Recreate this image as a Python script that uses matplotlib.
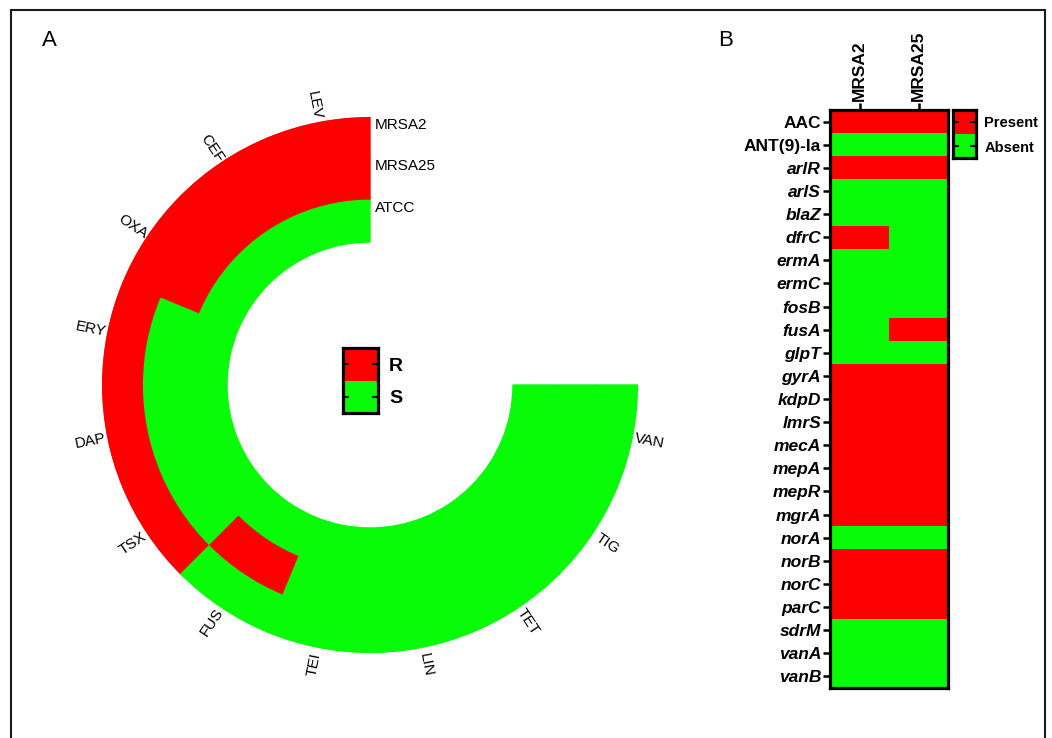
import numpy as np
import matplotlib
matplotlib.use("Agg")
import matplotlib.pyplot as plt
from matplotlib.colors import ListedColormap
from matplotlib.patches import Rectangle

plt.rcParams["font.family"] = ["Liberation Sans", "DejaVu Sans"]

RED = "#ff0000"
GREEN = "#08fc08"

# Panel A: antimicrobial susceptibility (1 = resistant, 0 = susceptible)
antibiotics = ["LEV", "CEF", "OXA", "ERY", "DAP", "TSX",
               "FUS", "TEI", "LIN", "TET", "TIG", "VAN"]
strains = ["MRSA2", "MRSA25", "ATCC"]          # outer ring -> inner ring
mrsa2_res = [1, 1, 1, 1, 1, 1, 0, 0, 0, 0, 0, 0]
mrsa25_res = [1, 1, 1, 0, 0, 0, 1, 0, 0, 0, 0, 0]
atcc_res = [0, 0, 0, 0, 0, 0, 0, 0, 0, 0, 0, 0]
res_labels = ["R", "S"]

# Panel B: resistance gene presence (1 = present, 0 = absent)
genes = ["AAC", "ANT(9)-Ia", "arlR", "arlS", "blaZ", "dfrC", "ermA", "ermC",
         "fosB", "fusA", "glpT", "gyrA", "kdpD", "lmrS", "mecA", "mepA",
         "mepR", "mgrA", "norA", "norB", "norC", "parC", "sdrM", "vanA", "vanB"]
gene_strains = ["MRSA2", "MRSA25"]
mrsa2_genes = [1, 0, 1, 0, 0, 1, 0, 0, 0, 0, 0, 1, 1, 1, 1, 1, 1, 1, 0, 1, 1, 1, 0, 0, 0]
mrsa25_genes = [1, 0, 1, 0, 0, 0, 0, 0, 0, 1, 0, 1, 1, 1, 1, 1, 1, 1, 0, 1, 1, 1, 0, 0, 0]
non_italic = ["AAC", "ANT(9)-Ia"]
gene_labels = ["Present", "Absent"]

W, H = 1052, 738
fig = plt.figure(figsize=(W / 100, H / 100), dpi=100, facecolor="white")


def px_axes(x0, y0, x1, y1, **kw):
    """Axes placed by pixel box (top-left origin)."""
    return fig.add_axes([x0 / W, 1 - y1 / H, (x1 - x0) / W, (y1 - y0) / H], **kw)


# outer frame (open at the bottom)
fig.add_artist(Rectangle((11 / W, -0.05), (1045 - 11) / W, 1.05 - 10 / H,
                         transform=fig.transFigure, fill=False,
                         edgecolor="#1a1a1a", linewidth=1.5))

fig.text(42 / W, 1 - 40 / H, "A", fontsize=16, va="center", ha="left")
fig.text(718 / W, 1 - 41 / H, "B", fontsize=16, va="center", ha="left")

# ---- Panel A: circular heatmap ------------------------------------------
cx, cy, r_out, r_in = 370, 385, 268, 143
axp = px_axes(cx - r_out, cy - r_out, cx + r_out, cy + r_out, projection="polar")
axp.set_theta_zero_location("N")
axp.set_theta_direction(1)
axp.set_ylim(0, r_out)
axp.set_axis_off()

n = len(antibiotics)
step = np.deg2rad(270 / n)
thetas = step * (np.arange(n) + 0.5)
ring_w = (r_out - r_in) / len(strains)
rings = [mrsa2_res, mrsa25_res, atcc_res]
for i, (name, vals) in enumerate(zip(strains, rings)):
    bottom = r_out - (i + 1) * ring_w
    cols = [RED if v else GREEN for v in vals]
    # same-colour edges hide antialiasing seams between neighbouring cells
    axp.bar(thetas, ring_w, width=step, bottom=bottom, color=cols,
            edgecolor=cols, linewidth=1.0, align="center")
    axp.annotate(name, xy=(0, bottom + ring_w / 2), xytext=(5, 13),
                 textcoords="offset pixels", ha="left", va="center", fontsize=11)

for th, lab in zip(thetas, antibiotics):
    ang = 90 + np.rad2deg(th)
    rot = (ang + 90) % 180 - 90
    axp.text(th, 285, lab, rotation=rot, rotation_mode="anchor",
             ha="center", va="center", fontsize=11)

# R / S key
axk = px_axes(343, 348, 378, 413)
axk.pcolormesh([[1], [0]], cmap=ListedColormap([GREEN, RED]), vmin=0, vmax=1)
axk.set_ylim(2, 0)
axk.set_xticks([])
axk.set_yticks([0.5, 1.5])
axk.set_yticklabels(res_labels, fontsize=14, fontweight="bold")
axk.tick_params(axis="y", direction="in", left=True, right=True,
                labelleft=False, labelright=True, length=4, width=1.5, pad=8)
for s in axk.spines.values():
    s.set_linewidth(2.3)

# ---- Panel B: gene heatmap ------------------------------------------------
axh = px_axes(830, 110, 948, 688)
mat = np.array([mrsa2_genes, mrsa25_genes]).T
axh.pcolormesh(mat, cmap=ListedColormap([GREEN, RED]), vmin=0, vmax=1)
axh.set_ylim(len(genes), 0)
axh.set_xticks(np.arange(len(gene_strains)) + 0.5)
axh.set_xticklabels(gene_strains, rotation=90, fontsize=12.5, fontweight="bold")
axh.xaxis.tick_top()
axh.set_yticks(np.arange(len(genes)) + 0.5)
axh.set_yticklabels(genes, fontsize=12.5, fontweight="bold")
for t in axh.get_yticklabels():
    if t.get_text() not in non_italic:
        t.set_fontstyle("italic")
axh.tick_params(length=5, width=1.8, pad=1.5)
for s in axh.spines.values():
    s.set_linewidth(2.3)

# Present / Absent key
axg = px_axes(953, 110, 976, 158)
axg.pcolormesh([[1], [0]], cmap=ListedColormap([GREEN, RED]), vmin=0, vmax=1)
axg.set_ylim(2, 0)
axg.set_xticks([])
axg.set_yticks([0.5, 1.5])
axg.set_yticklabels(gene_labels, fontsize=10.5, fontweight="bold")
axg.tick_params(axis="y", direction="in", left=True, right=True,
                labelleft=False, labelright=True, length=4, width=1.5, pad=6)
for s in axg.spines.values():
    s.set_linewidth(2.3)

fig.savefig("out.png", dpi=100, facecolor="white")
